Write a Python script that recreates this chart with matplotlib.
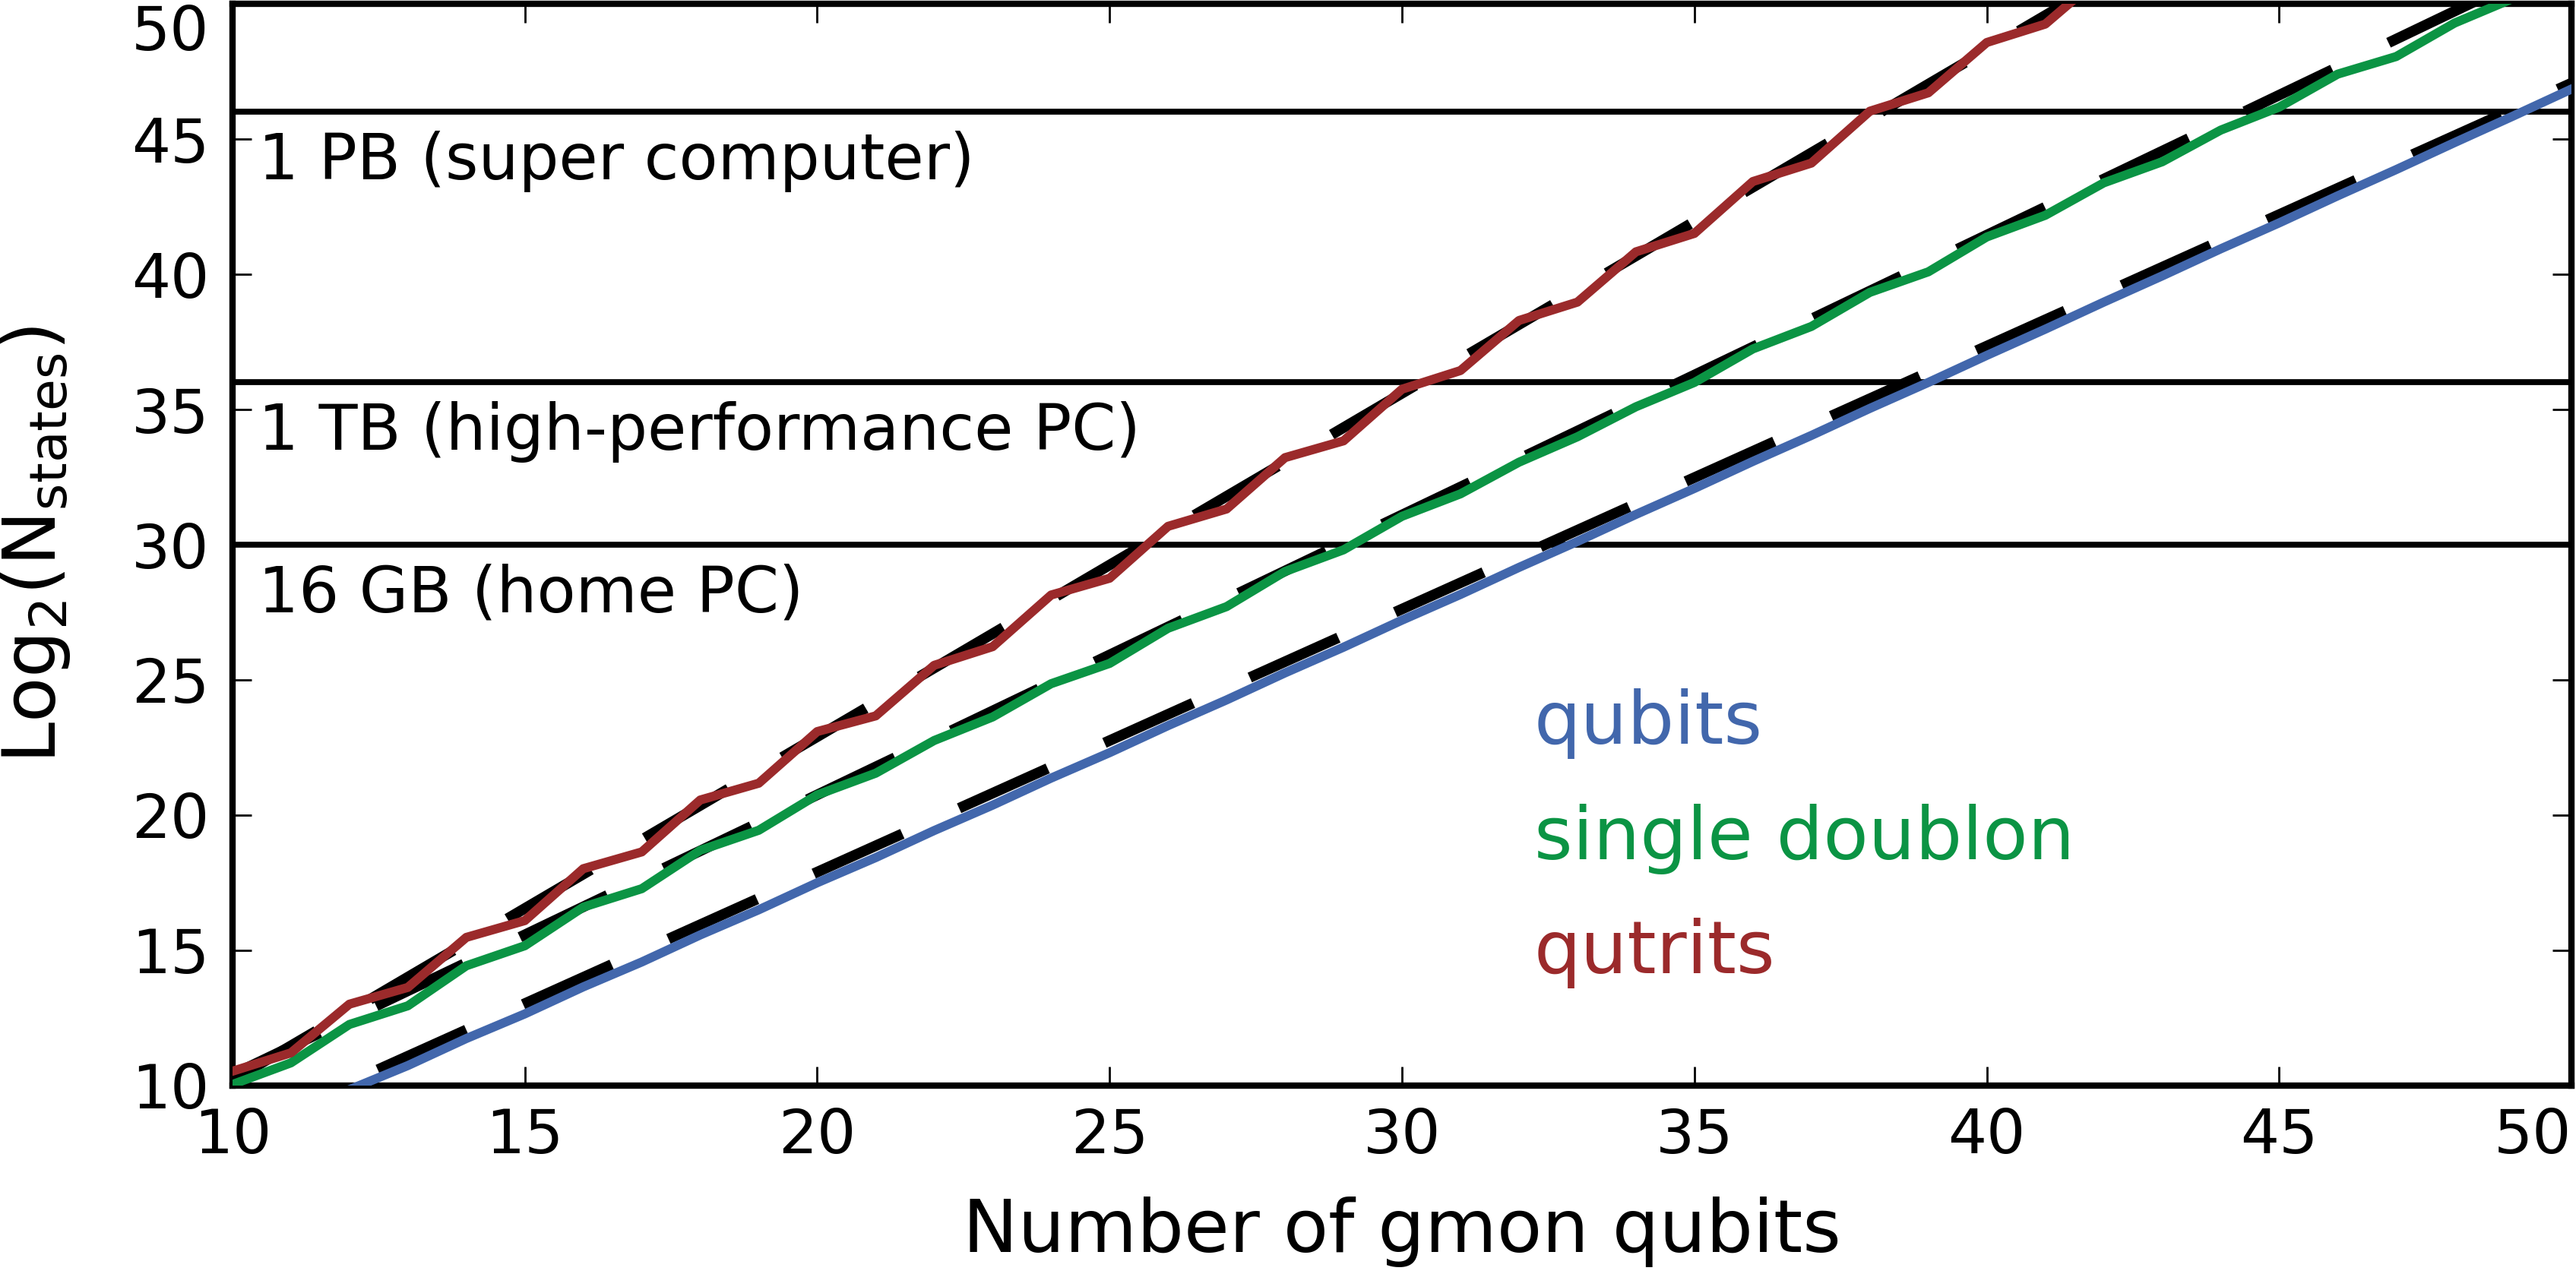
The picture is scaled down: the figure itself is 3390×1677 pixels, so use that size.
import matplotlib
matplotlib.use("Agg")
import matplotlib.pyplot as plt
import numpy as np

# --- style ---
plt.rcParams.update({
    'font.family': 'DejaVu Sans',
    'mathtext.default': 'regular',
    'xtick.direction': 'in',
    'ytick.direction': 'in',
    'xtick.top': True,
    'ytick.right': True,
})

# --- data ---
n_qubits = np.arange(10, 51)
qubits = [7.98, 8.85, 9.85, 10.74, 11.74, 12.65, 13.65, 14.57, 15.57, 16.50,
          17.50, 18.43, 19.43, 20.37, 21.37, 22.31, 23.31, 24.26, 25.26, 26.21,
          27.21, 28.16, 29.16, 30.12, 31.12, 32.08, 33.08, 34.04, 35.04, 36.00,
          37.00, 37.97, 38.97, 39.94, 40.94, 41.90, 42.90, 43.87, 44.87, 45.85,
          46.85]
single_doublon = [10.04, 10.84, 12.26, 12.95, 14.43, 15.17, 16.60, 17.28, 18.70, 19.44,
                  20.75, 21.55, 22.76, 23.63, 24.86, 25.61, 26.91, 27.71, 29.01, 29.81,
                  31.05, 31.88, 33.05, 33.99, 35.10, 36.00, 37.24, 38.07, 39.33, 40.09,
                  41.38, 42.18, 43.38, 44.16, 45.33, 46.18, 47.40, 48.05, 49.29, 50.20,
                  51.40]
n_qutrits = np.arange(10, 43)
qutrits = [10.53, 11.21, 13.01, 13.63, 15.48, 16.10, 18.02, 18.64, 20.56, 21.18,
           23.09, 23.67, 25.54, 26.23, 28.14, 28.76, 30.68, 31.32, 33.22, 33.84,
           35.75, 36.44, 38.29, 38.97, 40.83, 41.51, 43.43, 44.11, 46.03, 46.71,
           48.57, 49.25, 51.10]

# linear fits (dashed), end points
fit_n = [10, 50]
fit_qubits = [8.17, 47.07]
fit_doublon = [10.40, 51.80]
fit_qutrits = [10.20, 61.00]

# memory limits
mem_levels = [30, 36, 46]
mem_labels = ['16 GB (home PC)', '1 TB (high-performance PC)', '1 PB (super computer)']

c_blue = '#4267AC'
c_green = '#0B9444'
c_red = '#9B2A2B'

fig = plt.figure(figsize=(16.955, 8.385), dpi=200)
ax = fig.add_axes([0.0902, 0.1479, 0.9078, 0.8491])

# dashed fits underneath the data
for fy in (fit_qubits, fit_doublon, fit_qutrits):
    ax.plot(fit_n, fy, color='black', lw=5.0, dashes=(9.2, 5.9), zorder=2)

ax.plot(n_qubits, qubits, color=c_blue, lw=4.3, zorder=3)
ax.plot(n_qubits, single_doublon, color=c_green, lw=4.3, zorder=3)
ax.plot(n_qutrits, qutrits, color=c_red, lw=4.3, zorder=3)

for lev, lab in zip(mem_levels, mem_labels):
    ax.axhline(lev, color='black', lw=2.8, zorder=1)
    ax.text(10.45, lev - 2.5, lab, fontsize=30, va='baseline', ha='left')

# colored legend text
ax.text(32.26, 22.64, 'qubits', color=c_blue, fontsize=35, va='baseline')
ax.text(32.26, 18.38, 'single doublon', color=c_green, fontsize=35, va='baseline')
ax.text(32.26, 14.17, 'qutrits', color=c_red, fontsize=35, va='baseline')

ax.set_xlim(10, 50)
ax.set_ylim(10, 50)
ax.set_xticks(np.arange(10, 51, 5))
ax.set_yticks(np.arange(10, 51, 5))
ax.tick_params(axis='both', which='major', labelsize=29, length=9, width=1.0)
ax.tick_params(axis='x', pad=10)
ax.tick_params(axis='y', pad=11)
for sp in ax.spines.values():
    sp.set_linewidth(3)

# keep the end labels inside the figure
ax.get_xticklabels()[-1].set_horizontalalignment('right')
ax.get_yticklabels()[-1].set_verticalalignment('top')

ax.set_xlabel('Number of gmon qubits', fontsize=35)
ax.set_ylabel('Log$_2$(N$_{states}$)', fontsize=35)
ax.xaxis.set_label_coords(0.5, -0.1025)
ax.yaxis.set_label_coords(-0.0686, 0.5)

fig.savefig('out.png', dpi=200)
